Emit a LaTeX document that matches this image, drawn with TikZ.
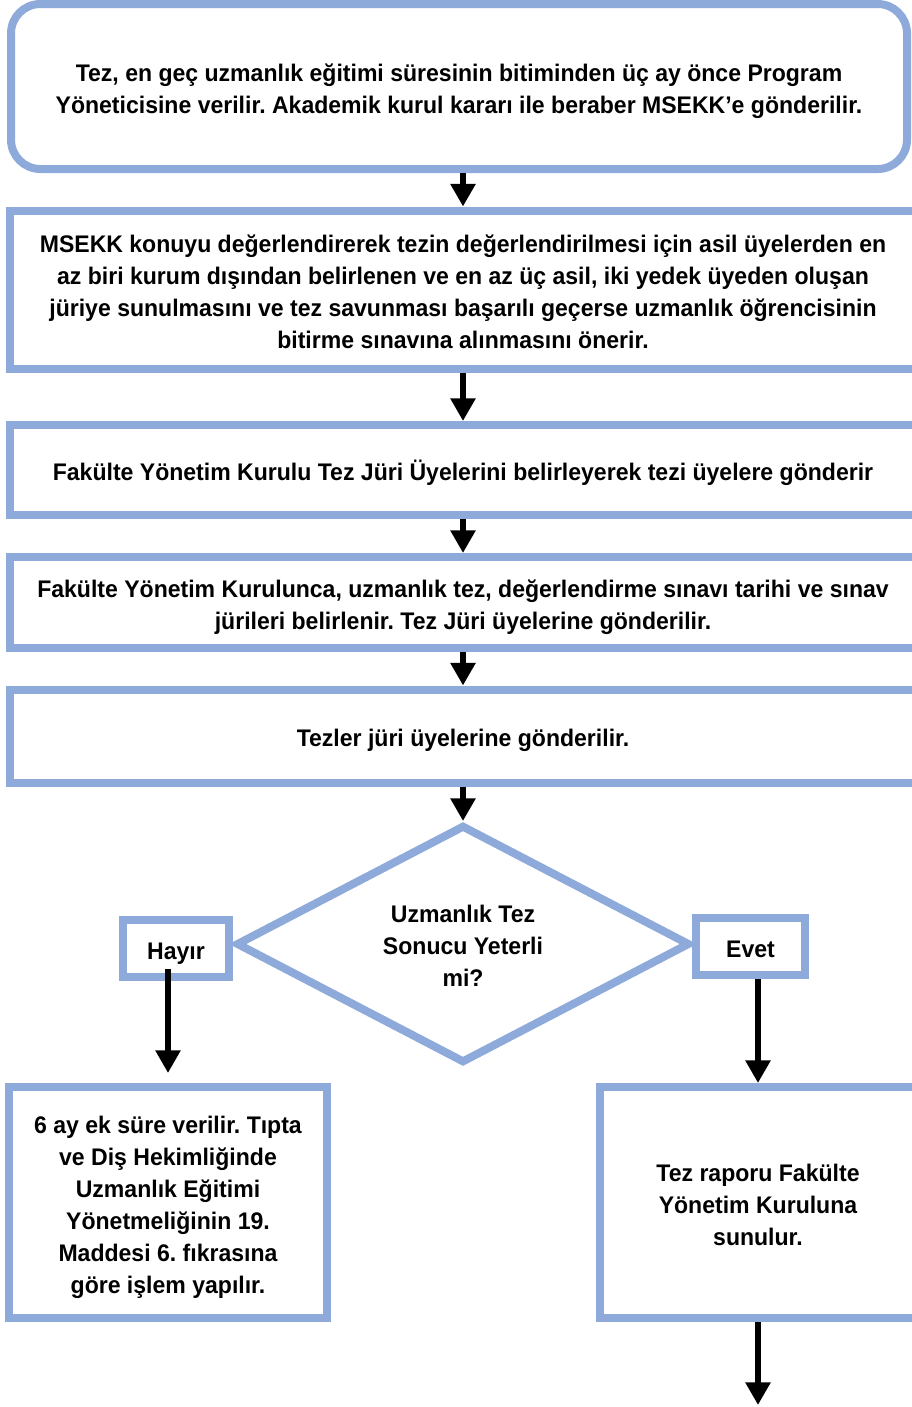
\documentclass[tikz,border=0pt]{standalone}
\usepackage{fontspec}
\setmainfont{Liberation Sans}[FakeStretch=0.96]
\usetikzlibrary{shapes.geometric,arrows.meta}
\definecolor{boxblue}{HTML}{8EAADB}
\frenchspacing
\newcommand{\hiStrut}{\rule{0pt}{20pt}}
\newcommand{\loStrut}{\rule[-4pt]{0pt}{4pt}}

\begin{document}
\begin{tikzpicture}[x=0.75pt, y=-0.75pt,
  every node/.style={font=\fontsize{18}{24}\selectfont\bfseries, align=center},
  stepbox/.style={draw=boxblue, line width=6pt, fill=white, inner sep=0pt},
  flow/.style={line width=5pt, -{Triangle[width=18pt,length=17pt]}}]
\useasboundingbox (0,0) rectangle (912,1407);

% steps
\node[stepbox, rounded corners=22pt, minimum width=672pt, minimum height=123.75pt] (tez) at (459,86.5)
  {\hiStrut Tez, en geç uzmanlık eğitimi süresinin bitiminden üç ay önce Program\\Yöneticisine verilir. Akademik kurul kararı ile beraber MSEKK’e gönderilir.\loStrut};
\node[stepbox, minimum width=679.5pt, minimum height=118.5pt] (msekk) at (463,289.5)
  {\hiStrut MSEKK konuyu değerlendirerek tezin değerlendirilmesi için asil üyelerden en\\az biri kurum dışından belirlenen ve en az üç asil, iki yedek üyeden oluşan\\jüriye sunulmasını ve tez savunması başarılı geçerse uzmanlık öğrencisinin\\bitirme sınavına alınmasını önerir.\loStrut};
\node[stepbox, minimum width=679.5pt, minimum height=67.5pt] (juri) at (463,470)
  {\hiStrut Fakülte Yönetim Kurulu Tez Jüri Üyelerini belirleyerek tezi üyelere gönderir\loStrut};
\node[stepbox, minimum width=679.5pt, minimum height=68.25pt] (tarih) at (463,602.5)
  {\hiStrut Fakülte Yönetim Kurulunca, uzmanlık tez, değerlendirme sınavı tarihi ve sınav\\jürileri belirlenir. Tez Jüri üyelerine gönderilir.\loStrut};
\node[stepbox, minimum width=679.5pt, minimum height=69.75pt] (gonder) at (463,736)
  {\hiStrut Tezler jüri üyelerine gönderilir.\loStrut};

% decision
\node[stepbox, diamond, aspect=1.9, minimum width=340.5pt, minimum height=178.5pt] (karar) at (463,944)
  {\hiStrut Uzmanlık Tez\\Sonucu Yeterli\\mi?\loStrut};
\node[stepbox, minimum width=79.5pt, minimum height=42.75pt] (hayir) at (176,948.5) {\hiStrut Hayır\loStrut};
\node[stepbox, minimum width=81.75pt, minimum height=42.75pt] (evet) at (750.5,946.5) {\hiStrut Evet\loStrut};

% outcomes
\node[stepbox, minimum width=238.5pt, minimum height=173.25pt] (ekSure) at (168,1202.5)
  {\hiStrut 6 ay ek süre verilir. Tıpta\\ve Diş Hekimliğinde\\Uzmanlık Eğitimi\\Yönetmeliğinin 19.\\Maddesi 6. fıkrasına\\göre işlem yapılır.\loStrut};
\node[stepbox, minimum width=237pt, minimum height=173.25pt] (rapor) at (758,1202.5)
  {\hiStrut Tez raporu Fakülte\\Yönetim Kuruluna\\sunulur.\loStrut};
\coordinate (son) at (758,1405);

% arrows
\draw[flow] (msekk.north |- tez.south) -- (msekk.north);
\draw[flow] (msekk) -- (juri);
\draw[flow] (juri) -- (tarih);
\draw[flow] (tarih) -- (gonder);
\draw[flow] (gonder) -- (karar);
\draw[flow, shorten <=-9pt, shorten >=7.5pt] (ekSure.north |- hayir.south) -- (ekSure.north);
\draw[flow] (rapor.north |- evet.south) -- (rapor.north);
\draw[flow] (rapor) -- (son);

\end{tikzpicture}
\end{document}
